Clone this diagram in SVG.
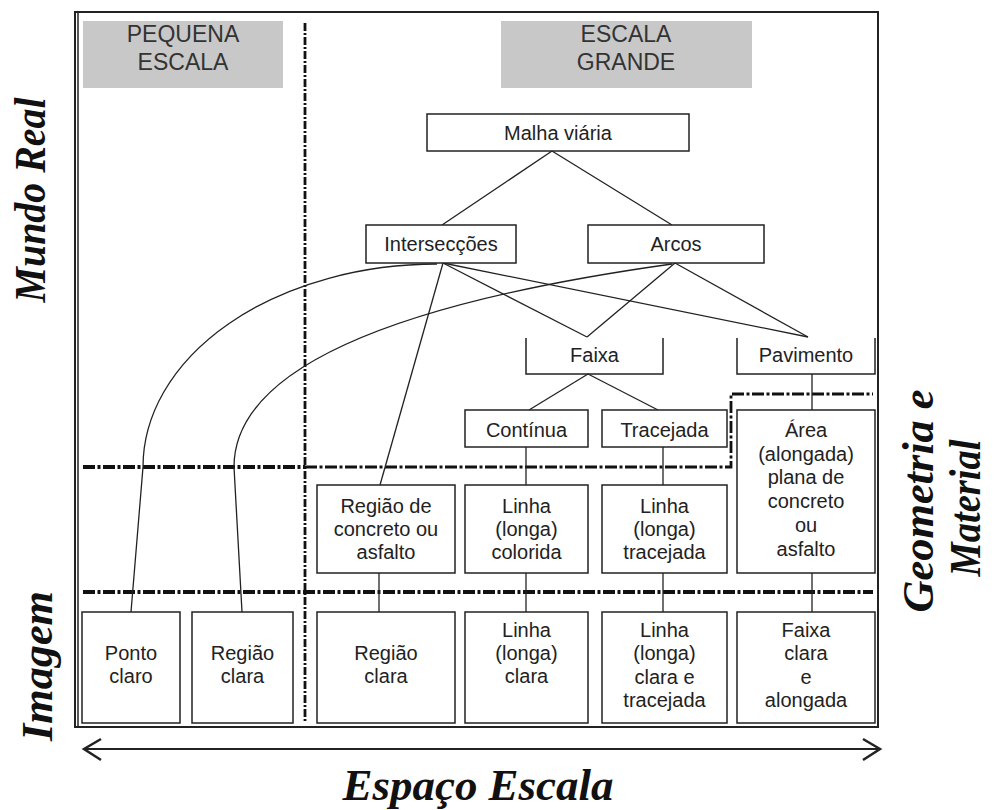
<svg xmlns="http://www.w3.org/2000/svg" width="994" height="810" viewBox="0 0 994 810">
<style>
.box{fill:#fff;stroke:#222;stroke-width:1.5}
.open{fill:none;stroke:#222;stroke-width:1.5}
.hdr{fill:#c8c8c8}
.t{font-family:"Liberation Sans",Arial,sans-serif;font-size:20px;fill:#222;text-anchor:middle}
.ht{font-family:"Liberation Sans",Arial,sans-serif;font-size:23px;fill:#333;text-anchor:middle}
.side{font-family:"Liberation Serif","Times New Roman",serif;font-weight:bold;font-style:italic;font-size:44px;fill:#111;text-anchor:middle}
.conn{fill:none;stroke:#222;stroke-width:1.3}
.dh{fill:none;stroke:#111;stroke-width:4;stroke-dasharray:12 2.5 3 2.5}
.dh2{fill:none;stroke:#111;stroke-width:2.8;stroke-dasharray:12 2.5 3 2.5}
.dv{fill:none;stroke:#111;stroke-width:2.8;stroke-dasharray:8 2 2 2}
.frame{fill:none;stroke:#222;stroke-width:2}
</style>
<rect width="994" height="810" fill="#fff"/>

<g id="frame">
<rect class="frame" x="75" y="12" width="803" height="715"/>
<line x1="78" y1="12" x2="78" y2="727" stroke="#222" stroke-width="1.5"/>
</g>

<g id="dividers">
<line class="dv" x1="305" y1="23" x2="305" y2="723"/>
<path class="dh" d="M83,467 H305"/>
<path class="dh2" d="M305,467 H731 V394 H873"/>
<path class="dh" d="M83,592 H873"/>
</g>

<g id="hdr-pequena">
<rect class="hdr" x="83" y="21" width="200" height="67"/>
<text class="ht" x="183" y="42">PEQUENA</text>
<text class="ht" x="183" y="70">ESCALA</text>
</g>
<g id="hdr-grande">
<rect class="hdr" x="501" y="21" width="251" height="67"/>
<text class="ht" x="626" y="42">ESCALA</text>
<text class="ht" x="626" y="70">GRANDE</text>
</g>

<g id="connectors">
<line class="conn" x1="552" y1="151" x2="442" y2="225"/>
<line class="conn" x1="552" y1="151" x2="672" y2="225"/>
<line class="conn" x1="443" y1="263" x2="587" y2="337"/>
<line class="conn" x1="443" y1="263" x2="808" y2="337"/>
<line class="conn" x1="443" y1="263" x2="380" y2="485"/>
<line class="conn" x1="675" y1="263" x2="587" y2="337"/>
<line class="conn" x1="675" y1="263" x2="808" y2="337"/>
<line class="conn" x1="588" y1="374" x2="529" y2="410"/>
<line class="conn" x1="588" y1="374" x2="658" y2="410"/>
<line class="conn" x1="812" y1="374" x2="812" y2="410"/>
<line class="conn" x1="526" y1="447" x2="526" y2="485"/>
<line class="conn" x1="663" y1="447" x2="663" y2="485"/>
<line class="conn" x1="379" y1="573" x2="379" y2="612"/>
<line class="conn" x1="526" y1="573" x2="526" y2="612"/>
<line class="conn" x1="663" y1="573" x2="663" y2="612"/>
<line class="conn" x1="812" y1="573" x2="812" y2="612"/>
<path class="conn" d="M437,264 A294,203 0 0 0 143,467 L131,612"/>
<path class="conn" d="M672,264 C422,299 234,360 234,467 L242,612"/>
</g>

<g id="malha"><rect class="box" x="427" y="114" width="262" height="37"/><text class="t" x="558" y="140">Malha viária</text></g>
<g id="intersec"><rect class="box" x="366" y="225" width="150" height="38"/><text class="t" x="441" y="251">Intersecções</text></g>
<g id="arcos"><rect class="box" x="588" y="225" width="176" height="38"/><text class="t" x="676" y="251">Arcos</text></g>
<g id="faixa"><path class="open" d="M526,338 V374 H663 V338"/><text class="t" x="594.5" y="362">Faixa</text></g>
<g id="pavimento"><path class="open" d="M737,338 V374 H875 V338"/><text class="t" x="806" y="362">Pavimento</text></g>
<g id="continua"><rect class="box" x="465" y="410" width="123" height="37"/><text class="t" x="526.5" y="437">Contínua</text></g>
<g id="tracejada"><rect class="box" x="602" y="410" width="125" height="37"/><text class="t" x="664.5" y="437">Tracejada</text></g>
<g id="area"><rect class="box" x="737" y="410" width="138" height="163"/>
<text class="t" x="806" y="437">Área</text><text class="t" x="806" y="461">(alongada)</text><text class="t" x="806" y="484">plana de</text><text class="t" x="806" y="508">concreto</text><text class="t" x="806" y="532">ou</text><text class="t" x="806" y="556">asfalto</text></g>
<g id="regiao-concreto"><rect class="box" x="317" y="485" width="138" height="88"/>
<text class="t" x="386" y="513">Região de</text><text class="t" x="386" y="536">concreto ou</text><text class="t" x="386" y="559">asfalto</text></g>
<g id="linha-colorida"><rect class="box" x="465" y="485" width="123" height="88"/>
<text class="t" x="526.5" y="513">Linha</text><text class="t" x="526.5" y="536">(longa)</text><text class="t" x="526.5" y="559">colorida</text></g>
<g id="linha-tracejada"><rect class="box" x="602" y="485" width="125" height="88"/>
<text class="t" x="664.5" y="513">Linha</text><text class="t" x="664.5" y="536">(longa)</text><text class="t" x="664.5" y="559">tracejada</text></g>
<g id="ponto-claro"><rect class="box" x="82" y="612" width="98" height="111"/>
<text class="t" x="131" y="660">Ponto</text><text class="t" x="131" y="683">claro</text></g>
<g id="regiao-clara-peq"><rect class="box" x="192" y="612" width="101" height="111"/>
<text class="t" x="242.5" y="660">Região</text><text class="t" x="242.5" y="683">clara</text></g>
<g id="regiao-clara"><rect class="box" x="317" y="612" width="138" height="111"/>
<text class="t" x="386" y="660">Região</text><text class="t" x="386" y="683">clara</text></g>
<g id="linha-clara"><rect class="box" x="465" y="612" width="123" height="111"/>
<text class="t" x="526.5" y="637">Linha</text><text class="t" x="526.5" y="660">(longa)</text><text class="t" x="526.5" y="683">clara</text></g>
<g id="linha-clara-tracejada"><rect class="box" x="602" y="612" width="125" height="111"/>
<text class="t" x="664.5" y="637">Linha</text><text class="t" x="664.5" y="660">(longa)</text><text class="t" x="664.5" y="684">clara e</text><text class="t" x="664.5" y="707">tracejada</text></g>
<g id="faixa-clara"><rect class="box" x="737" y="612" width="138" height="111"/>
<text class="t" x="806" y="637">Faixa</text><text class="t" x="806" y="660">clara</text><text class="t" x="806" y="684">e</text><text class="t" x="806" y="707">alongada</text></g>

<g id="labels">
<text class="side" transform="translate(45,200) rotate(-90)" textLength="205" lengthAdjust="spacingAndGlyphs">Mundo Real</text>
<text class="side" transform="translate(52,666) rotate(-90)" textLength="150" lengthAdjust="spacingAndGlyphs">Imagem</text>
<text class="side" transform="translate(933,501) rotate(-90)" font-size="40" textLength="223" lengthAdjust="spacingAndGlyphs">Geometria e</text>
<text class="side" transform="translate(980,508) rotate(-90)" font-size="40" textLength="137" lengthAdjust="spacingAndGlyphs">Material</text>
<text class="side" x="478" y="800" font-size="42" textLength="271" lengthAdjust="spacingAndGlyphs">Espaço Escala</text>
</g>

<g id="axis" fill="none" stroke="#222" stroke-width="2">
<line x1="85" y1="749" x2="879" y2="749"/>
<polyline points="101,739 84,749 101,760" stroke-width="2.5"/>
<polyline points="863,739 880,749 863,760" stroke-width="2.5"/>
</g>
</svg>
